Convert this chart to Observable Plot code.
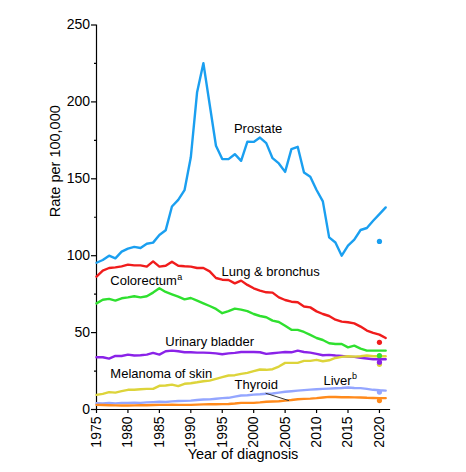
<!DOCTYPE html>
<html>
<head>
<meta charset="utf-8">
<script src="https://cdn.jsdelivr.net/npm/d3@7"></script>
<script src="https://cdn.jsdelivr.net/npm/@observablehq/plot@0.6"></script>
<style>
  html, body { margin: 0; padding: 0; background: #fff; }
  #chart svg { display: block; }
</style>
</head>
<body>
<div id="chart"></div>
<script>
const years = [1975,1976,1977,1978,1979,1980,1981,1982,1983,1984,1985,1986,1987,1988,1989,1990,1991,1992,1993,1994,1995,1996,1997,1998,1999,2000,2001,2002,2003,2004,2005,2006,2007,2008,2009,2010,2011,2012,2013,2014,2015,2016,2017,2018,2019,2020,2021];

const prostate = [95.4,97.2,100,98.3,102.6,104.6,105.7,105,107.8,108.5,113.5,116.5,132,136.3,142.6,164,206.3,225.2,198.3,171.5,162.8,162.8,166,161.7,174.2,174,176.8,173.2,163.4,160,154.5,169.3,170.8,154.1,151.3,142.7,135.3,111.9,108.6,100,106.5,110.4,116.7,118,122.7,127,131.4];
const lung = [86.4,90.3,92,92.4,93.1,94.2,93.7,93.7,92.9,96.3,92.9,93.5,96.1,93.5,93.1,92.9,92,92,89.8,85.5,84.4,84.2,82,83.8,81,78.8,77.3,76.2,76,72.9,71.2,70.1,69.7,67,66.4,63.8,62.1,60.8,58.4,57.1,56.7,56,53.9,51.3,49.8,48.7,46.5];
const colorectum = [69,71.4,71.9,70.8,72.3,72.9,73.6,72.9,73.6,76,78.8,76.4,74.9,73.4,71.6,72.5,70.8,69,67.3,65.4,62.6,63.9,65.6,64.9,64,62.1,60.8,60,57.8,56.9,54.5,51.8,51.8,50.4,48.5,46.5,45.2,43.1,42.6,42.6,40.4,41.5,39.6,38.3,38.3,38.3,38.3];
const bladder = [34,34,33.1,34.8,34.8,35.7,35.1,35.3,35.7,36.8,35.7,37.9,38.3,37.9,37.2,37.2,37,37,36.8,36.5,35.9,36.5,36.8,37.4,37.4,37.4,37.2,36.2,36.6,37,37.4,37.2,38.3,37.4,37,36.2,35.3,35.5,35.1,34.8,34.4,34.2,33.6,33.2,32.7,32.7,32.7];
const melanoma = [9.5,10.2,11.3,11,11.9,12.8,12.8,13.2,13.4,13.4,15.4,15.6,16.2,15.2,16.7,17.1,17.7,18.4,18.8,19.9,21,22.1,22.3,23.2,23.8,24.9,26,25.8,26.2,27.9,30.3,30.3,30.3,31.6,31.6,32.3,31.4,32,33.5,34.2,34.6,34.4,34.6,35.1,34.6,34.6,34.6];
const liver = [4.1,4.0,4.2,4.0,4.3,4.3,4.5,4.3,4.6,4.8,5,4.9,5.3,5.5,5.6,5.8,6.2,6.5,6.6,7.0,7.4,7.6,8.4,9.1,9.3,9.7,9.9,10.2,10.4,11,11.5,11.9,12.3,12.6,12.9,13.2,13.4,13.6,13.8,14.0,14.3,14.0,13.9,13.4,12.8,12.5,12.3];
const thyroid = [3,2.9,2.8,2.7,2.6,2.6,2.7,2.8,2.8,2.9,3,3,3.1,3.0,3,3,3.2,3.3,3.4,3.4,3.5,3.6,3.9,4.3,4.3,4.3,4.6,5,5.2,5.4,5.8,6.2,6.7,6.9,7.1,7.4,7.8,8.2,8.1,8.0,8,7.9,7.8,7.6,7.5,7.4,7.4];

const sites = ["Prostate","Lung & bronchus","Colorectum","Urinary bladder","Melanoma of skin","Liver","Thyroid"];
const siteColors = ["#1a9ff0","#f01c1c","#2fe02f","#8a22e8","#ddd43a","#94a6ff","#ff8a1c"];
const siteSeries = [prostate, lung, colorectum, bladder, melanoma, liver, thyroid];

// 2020 separate estimates (dots)
const dotYear = 2020;
const dotSites = ["Prostate","Lung & bronchus","Colorectum","Melanoma of skin","Urinary bladder","Liver","Thyroid"];
const dotValues = [109.3,43.7,35,29.4,30.8,11.3,5.8];

// Annotation labels (anchored in data space)
const midLabelText = ["Prostate","Lung & bronchus","Urinary bladder","Thyroid"];
const midLabelYear = [2000.7,2002.7,1993,2000.4];
const midLabelRate = [182.5,89.8,43.7,16.2];
const startLabelText = ["Colorectum","Melanoma of skin","Liver"];
const startLabelYear = [1977.2,1977.2,2011.1];
const startLabelRate = [83.8,23.2,18.8];
const supText = ["a","b"];
const supYear = [1977.2,2011.1];
const supRate = [83.8,18.8];

const leaderYears = [2001.9,2005.6];
const leaderRates = [10.6,5.8];

const yTicks = [0,50,100,150,200,250];
const yMinor = [25,75,125,175,225];
const xTicks = [1975,1980,1985,1990,1995,2000,2005,2010,2015,2020];

const table = [];
siteSeries.forEach((s, i) => s.forEach((v, j) => table.push({site: sites[i], year: years[j], rate: v})));
const dots = dotSites.map((s, i) => ({site: s, year: dotYear, rate: dotValues[i]}));
const midLabels = midLabelText.map((t, i) => ({text: t, year: midLabelYear[i], rate: midLabelRate[i]}));
const startLabels = startLabelText.map((t, i) => ({text: t, year: startLabelYear[i], rate: startLabelRate[i]}));
const sups = supText.map((t, i) => ({text: t, year: supYear[i], rate: supRate[i]}));
const leader = [{x1: leaderYears[0], y1: leaderRates[0], x2: leaderYears[1], y2: leaderRates[1]}];

const font = "'Liberation Sans', Arial, sans-serif";

const chart = Plot.plot({
  width: 466,
  height: 472,
  marginLeft: 96,
  marginRight: 77,
  marginTop: 24.5,
  marginBottom: 63,
  style: {fontFamily: font, fontSize: "14px", color: "#000", background: "#fff"},
  x: {domain: [1975, 2021.6], label: null},
  y: {domain: [0, 250], label: null},
  color: {domain: sites, range: siteColors},
  marks: [
    Plot.frame({anchor: "left", stroke: "#000", strokeWidth: 1.2}),
    Plot.frame({anchor: "bottom", stroke: "#000", strokeWidth: 1.2}),
    Plot.axisY({ticks: yTicks, tickSize: 5, tickPadding: 1.5, fontSize: 14, tickFormat: d => String(d), strokeWidth: 1.2}),
    Plot.axisY({ticks: yMinor, tickSize: 2, tickFormat: () => "", strokeWidth: 1.2}),
    Plot.axisX({ticks: xTicks, tickSize: 4, tickPadding: 3, tickRotate: -90, fontSize: 14, tickFormat: d => String(d), strokeWidth: 1.2}),
    Plot.line(table, {x: "year", y: "rate", z: "site", stroke: "site", strokeWidth: 2.4, strokeLinejoin: "round"}),
    Plot.dot(dots, {x: "year", y: "rate", fill: "site", r: 2.6}),
    Plot.link(leader, {x1: "x1", y1: "y1", x2: "x2", y2: "y2", stroke: "#333", strokeWidth: 1}),
    Plot.text(midLabels, {x: "year", y: "rate", text: "text", textAnchor: "middle", fontSize: 13, fill: "#000"}),
    Plot.text(startLabels, {x: "year", y: "rate", text: "text", textAnchor: "start", fontSize: 13, fill: "#000"}),
    Plot.text(sups.slice(0, 1), {x: "year", y: "rate", text: "text", dx: 67, dy: -4, textAnchor: "start", fontSize: 9, fill: "#000"}),
    Plot.text(sups.slice(1, 2), {x: "year", y: "rate", text: "text", dx: 28.5, dy: -4, textAnchor: "start", fontSize: 9, fill: "#000"}),
    Plot.text(["Rate per 100,000"], {frameAnchor: "left", dx: -41, rotate: -90, fontSize: 14.5, fill: "#000"}),
    Plot.text(["Year of diagnosis"], {frameAnchor: "bottom", dy: 49, fontSize: 14.5, fill: "#000"})
  ]
});
document.getElementById("chart").appendChild(chart);
</script>
</body>
</html>
